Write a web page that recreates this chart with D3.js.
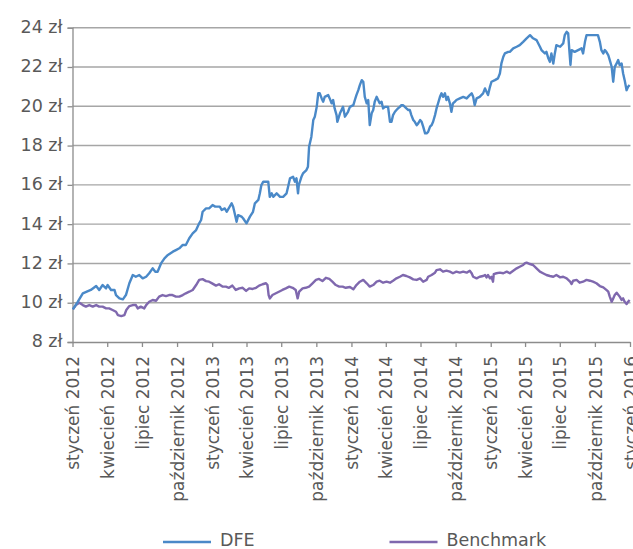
<!DOCTYPE html>
<html><head><meta charset="utf-8">
<script src="https://cdn.jsdelivr.net/npm/d3@7"></script>
<style>
html,body{margin:0;padding:0;background:#fff;}
svg{display:block;font-family:"DejaVu Sans",Verdana,sans-serif;}
</style></head>
<body><svg id="chart" width="633" height="549"></svg>
<script>
const dfeDates = ["2012-01-02","2012-01-15","2012-01-28","2012-02-18","2012-03-03","2012-03-11","2012-03-20","2012-03-29","2012-04-02","2012-04-11","2012-04-20","2012-04-24","2012-05-03","2012-05-12","2012-05-20","2012-05-29","2012-06-07","2012-06-15","2012-06-24","2012-07-03","2012-07-12","2012-07-20","2012-07-29","2012-08-05","2012-08-11","2012-08-20","2012-08-29","2012-09-07","2012-09-20","2012-09-28","2012-10-07","2012-10-16","2012-10-24","2012-11-02","2012-11-11","2012-11-20","2012-11-28","2012-12-03","2012-12-07","2012-12-16","2012-12-24","2013-01-02","2013-01-09","2013-01-13","2013-01-21","2013-01-26","2013-02-03","2013-02-08","2013-02-16","2013-02-21","2013-02-25","2013-03-01","2013-03-06","2013-03-10","2013-03-19","2013-03-23","2013-04-01","2013-04-10","2013-04-18","2013-04-23","2013-05-02","2013-05-06","2013-05-10","2013-05-15","2013-05-28","2013-06-01","2013-06-06","2013-06-10","2013-06-19","2013-06-28","2013-07-06","2013-07-15","2013-07-19","2013-07-24","2013-08-01","2013-08-06","2013-08-10","2013-08-14","2013-08-16","2013-08-23","2013-08-27","2013-09-05","2013-09-09","2013-09-12","2013-09-18","2013-09-23","2013-09-27","2013-10-02","2013-10-06","2013-10-10","2013-10-15","2013-10-19","2013-10-23","2013-11-01","2013-11-05","2013-11-10","2013-11-14","2013-11-18","2013-11-23","2013-11-25","2013-12-02","2013-12-10","2013-12-15","2013-12-23","2013-12-28","2014-01-06","2014-01-10","2014-01-14","2014-01-19","2014-01-23","2014-01-28","2014-02-01","2014-02-05","2014-02-10","2014-02-14","2014-02-18","2014-02-23","2014-02-27","2014-03-03","2014-03-08","2014-03-12","2014-03-16","2014-03-21","2014-03-25","2014-03-30","2014-04-03","2014-04-07","2014-04-12","2014-04-16","2014-04-20","2014-04-25","2014-04-29","2014-05-03","2014-05-08","2014-05-12","2014-05-16","2014-05-21","2014-05-25","2014-05-30","2014-06-03","2014-06-07","2014-06-12","2014-06-16","2014-06-21","2014-06-25","2014-06-30","2014-07-04","2014-07-08","2014-07-13","2014-07-17","2014-07-21","2014-07-26","2014-07-30","2014-08-03","2014-08-08","2014-08-12","2014-08-16","2014-08-21","2014-08-25","2014-08-29","2014-09-03","2014-09-07","2014-09-11","2014-09-16","2014-09-20","2014-09-24","2014-09-29","2014-10-03","2014-10-12","2014-10-21","2014-10-30","2014-11-07","2014-11-12","2014-11-16","2014-11-20","2014-11-25","2014-12-03","2014-12-12","2014-12-17","2014-12-21","2014-12-25","2014-12-30","2015-01-03","2015-01-12","2015-01-20","2015-01-25","2015-01-29","2015-02-03","2015-02-07","2015-02-16","2015-02-20","2015-03-01","2015-03-10","2015-03-18","2015-03-27","2015-04-05","2015-04-14","2015-04-22","2015-05-01","2015-05-10","2015-05-14","2015-05-23","2015-05-27","2015-06-01","2015-06-05","2015-06-09","2015-06-14","2015-06-18","2015-06-22","2015-07-02","2015-07-10","2015-07-14","2015-07-19","2015-07-23","2015-07-26","2015-07-29","2015-08-01","2015-08-09","2015-08-18","2015-08-27","2015-08-31","2015-09-05","2015-09-09","2015-09-18","2015-09-26","2015-10-05","2015-10-09","2015-10-14","2015-10-18","2015-10-23","2015-10-27","2015-10-31","2015-11-05","2015-11-09","2015-11-14","2015-11-18","2015-11-22","2015-11-27","2015-12-01","2015-12-05","2015-12-10","2015-12-14","2015-12-18","2015-12-23","2015-12-27","2015-12-31"];
const dfeValues = [9.66,10.05,10.48,10.65,10.85,10.65,10.9,10.73,10.9,10.65,10.65,10.39,10.22,10.17,10.39,10.99,11.41,11.32,11.41,11.24,11.32,11.5,11.75,11.58,11.58,12.0,12.26,12.43,12.6,12.68,12.77,12.94,12.94,13.28,13.53,13.7,14.04,14.21,14.63,14.8,14.8,14.97,14.89,14.89,14.89,14.72,14.8,14.63,14.89,15.06,14.89,14.55,14.12,14.46,14.38,14.3,14.04,14.38,14.63,15.06,15.23,15.57,15.99,16.16,16.16,15.39,15.57,15.39,15.57,15.39,15.39,15.57,15.9,16.33,16.41,16.16,16.33,15.57,15.99,16.41,16.58,16.75,16.92,17.94,18.45,19.3,19.47,19.97,20.66,20.66,20.4,20.23,20.48,20.57,20.4,20.15,20.32,19.89,19.55,19.21,19.64,19.97,19.47,19.72,19.97,20.06,20.32,20.57,20.82,21.08,21.33,21.25,20.48,20.15,20.32,19.04,19.64,19.81,20.23,20.48,20.32,20.15,20.23,19.89,19.97,19.97,19.97,19.21,19.21,19.55,19.72,19.81,19.89,19.97,20.06,20.06,19.97,19.89,19.81,19.81,19.55,19.3,19.21,19.04,19.13,19.3,19.21,18.96,18.62,18.62,18.7,18.96,19.04,19.21,19.55,19.89,20.15,20.48,20.66,20.48,20.66,20.32,20.48,20.15,19.72,20.15,20.23,20.32,20.4,20.48,20.4,20.57,20.66,20.48,20.06,20.4,20.48,20.66,20.91,20.74,20.57,20.99,21.25,21.33,21.42,21.67,22.18,22.52,22.69,22.77,22.77,22.95,23.03,23.11,23.28,23.46,23.62,23.46,23.37,23.03,22.86,22.69,22.77,22.44,22.26,22.69,22.18,22.69,23.11,23.03,23.2,23.62,23.79,23.71,22.86,22.1,22.86,22.77,22.86,22.95,22.69,23.28,23.62,23.62,23.62,23.62,23.62,23.28,22.86,22.69,22.86,22.77,22.61,22.35,22.01,21.25,22.01,22.18,22.35,22.1,22.18,21.67,21.33,20.82,20.99,21.08];

const benchDates = ["2012-01-02","2012-01-10","2012-01-19","2012-01-28","2012-02-05","2012-02-14","2012-02-23","2012-03-03","2012-03-11","2012-03-20","2012-03-29","2012-04-06","2012-04-15","2012-04-24","2012-04-29","2012-05-08","2012-05-16","2012-05-21","2012-05-29","2012-06-07","2012-06-15","2012-06-20","2012-06-28","2012-07-07","2012-07-12","2012-07-20","2012-07-29","2012-08-07","2012-08-15","2012-08-24","2012-09-02","2012-09-10","2012-09-19","2012-09-28","2012-10-07","2012-10-16","2012-10-24","2012-11-02","2012-11-11","2012-11-20","2012-11-28","2012-12-07","2012-12-16","2012-12-24","2013-01-02","2013-01-11","2013-01-19","2013-01-28","2013-02-06","2013-02-14","2013-02-23","2013-03-04","2013-03-13","2013-03-22","2013-03-31","2013-04-08","2013-04-17","2013-04-26","2013-05-04","2013-05-13","2013-05-22","2013-05-26","2013-05-29","2013-06-01","2013-06-08","2013-06-17","2013-06-25","2013-07-04","2013-07-13","2013-07-22","2013-07-31","2013-08-08","2013-08-13","2013-08-17","2013-08-26","2013-09-03","2013-09-12","2013-09-21","2013-09-30","2013-10-08","2013-10-17","2013-10-26","2013-11-04","2013-11-12","2013-11-21","2013-11-30","2013-12-09","2013-12-17","2013-12-28","2014-01-06","2014-01-14","2014-01-23","2014-02-01","2014-02-10","2014-02-18","2014-02-27","2014-03-08","2014-03-16","2014-03-25","2014-04-03","2014-04-12","2014-04-20","2014-04-29","2014-05-08","2014-05-16","2014-05-25","2014-06-03","2014-06-12","2014-06-21","2014-06-30","2014-07-08","2014-07-17","2014-07-21","2014-07-30","2014-08-08","2014-08-12","2014-08-21","2014-08-29","2014-09-07","2014-09-16","2014-09-24","2014-10-03","2014-10-12","2014-10-21","2014-10-30","2014-11-07","2014-11-12","2014-11-16","2014-11-25","2014-12-03","2014-12-12","2014-12-17","2014-12-21","2014-12-25","2014-12-30","2015-01-03","2015-01-07","2015-01-09","2015-01-16","2015-01-25","2015-02-03","2015-02-12","2015-02-20","2015-03-01","2015-03-10","2015-03-18","2015-03-27","2015-03-31","2015-04-05","2015-04-14","2015-04-22","2015-05-01","2015-05-10","2015-05-18","2015-05-27","2015-06-05","2015-06-14","2015-06-22","2015-07-02","2015-07-10","2015-07-19","2015-07-28","2015-08-01","2015-08-05","2015-08-14","2015-08-22","2015-08-31","2015-09-09","2015-09-18","2015-09-26","2015-10-05","2015-10-14","2015-10-23","2015-10-31","2015-11-05","2015-11-09","2015-11-14","2015-11-18","2015-11-22","2015-11-27","2015-12-05","2015-12-10","2015-12-14","2015-12-18","2015-12-23","2015-12-27","2015-12-31"];
const benchValues = [9.66,9.88,10.0,9.88,9.8,9.88,9.8,9.88,9.8,9.8,9.71,9.71,9.63,9.54,9.37,9.32,9.37,9.63,9.83,9.88,9.88,9.71,9.8,9.71,9.88,10.05,10.14,10.1,10.31,10.39,10.34,10.39,10.39,10.31,10.31,10.39,10.48,10.56,10.65,10.9,11.16,11.2,11.1,11.07,10.97,10.87,10.94,10.82,10.82,10.76,10.87,10.65,10.73,10.76,10.6,10.73,10.7,10.76,10.87,10.94,10.99,10.9,10.39,10.22,10.39,10.48,10.56,10.65,10.73,10.82,10.76,10.65,10.22,10.56,10.73,10.76,10.82,10.99,11.16,11.21,11.1,11.27,11.21,11.07,10.9,10.82,10.82,10.76,10.8,10.68,10.9,11.07,11.16,10.99,10.82,10.9,11.07,11.12,11.02,11.07,11.02,11.12,11.24,11.32,11.41,11.36,11.29,11.19,11.16,11.24,11.07,11.16,11.32,11.41,11.53,11.66,11.7,11.58,11.63,11.58,11.5,11.58,11.53,11.58,11.53,11.63,11.5,11.32,11.24,11.32,11.36,11.41,11.29,11.41,11.24,11.32,11.07,11.46,11.5,11.53,11.5,11.58,11.5,11.63,11.75,11.83,11.92,12.0,12.04,11.97,11.92,11.75,11.58,11.5,11.41,11.36,11.32,11.41,11.29,11.32,11.24,11.07,10.95,11.12,11.16,11.02,11.07,11.16,11.12,11.07,10.99,10.85,10.78,10.65,10.56,10.31,10.05,10.22,10.39,10.51,10.31,10.14,10.22,10.05,9.93,10.05,10.14];

const yTicks = [8,10,12,14,16,18,20,22,24];
const monthNames = ["styczeń","luty","marzec","kwiecień","maj","czerwiec","lipiec","sierpień","wrzesień","październik","listopad","grudzień"];
const seriesNames = ["DFE","Benchmark"];
const seriesColors = ["#4a89c8","#7f68ae"];

const parse = d3.timeParse("%Y-%m-%d");
const svg = d3.select("#chart");
const x = d3.scaleTime().domain([new Date(2012,0,1), new Date(2016,0,1)]).range([72.5, 630]);
const y = d3.scaleLinear().domain([8,24]).range([342, 27.7]);
const textColor = "#595959";
const axisColor = "#8c8c8c";

// gridlines
svg.append("g").selectAll("line").data(yTicks.filter(v=>v>8)).join("line")
  .attr("x1",72.5).attr("x2",630.5).attr("y1",d=>y(d)).attr("y2",d=>y(d))
  .attr("stroke","#a6a6a6").attr("stroke-width",1.4);

// y axis
const yAxis = d3.axisLeft(y).tickValues(yTicks).tickSize(5).tickPadding(5)
  .tickFormat(d=>d+" zł");
const gy = svg.append("g").attr("transform","translate(72.5,0)").call(yAxis);
gy.select(".domain").attr("stroke",axisColor).attr("stroke-width",1.3);
gy.selectAll(".tick line").attr("stroke",axisColor).attr("stroke-width",1.3);
gy.selectAll(".tick text").attr("fill",textColor).attr("font-size","17.5px")
  .attr("font-family","DejaVu Sans, Verdana, sans-serif").attr("dy","0.28em");

// x axis
const xTicks = d3.timeMonth.every(3).range(new Date(2012,0,1), new Date(2016,0,2));
const xAxis = d3.axisBottom(x).tickValues(xTicks).tickSize(5).tickSizeOuter(0)
  .tickFormat(d=>monthNames[d.getMonth()]+" "+d.getFullYear());
const gx = svg.append("g").attr("transform","translate(0,342)").call(xAxis);
gx.select(".domain").attr("stroke",axisColor).attr("stroke-width",1.3);
gx.selectAll(".tick line").attr("stroke",axisColor).attr("stroke-width",1.3);
gx.selectAll(".tick text").attr("fill",textColor).attr("font-size","17px")
  .attr("font-family","DejaVu Sans, Verdana, sans-serif")
  .attr("text-anchor","end").attr("transform","rotate(-90)")
  .attr("x",-14).attr("y",0).attr("dy","0.36em");

// lines
const line = d3.line().x(d=>x(d.date)).y(d=>y(d.value));
const series = [
  dfeDates.map((d,i)=>({date:parse(d),value:dfeValues[i]})),
  benchDates.map((d,i)=>({date:parse(d),value:benchValues[i]}))
];
svg.append("g").selectAll("path").data([series[1],series[0]]).join("path")
  .attr("d",line).attr("fill","none")
  .attr("stroke",(d,i)=>i===0?seriesColors[1]:seriesColors[0])
  .attr("stroke-width",2.4).attr("stroke-linejoin","round");

// legend
const legX = [163, 389.5];
const leg = svg.append("g").selectAll("g").data(seriesNames).join("g")
  .attr("transform",(d,i)=>`translate(${legX[i]},540)`);
leg.append("line").attr("x1",0).attr("x2",48).attr("y1",2).attr("y2",2)
  .attr("stroke",(d,i)=>seriesColors[i]).attr("stroke-width",2.6);
leg.append("text").attr("x",57).attr("y",0).attr("dy","0.35em")
  .attr("fill",textColor).attr("font-size","17.5px").text(d=>d);
</script></body></html>
